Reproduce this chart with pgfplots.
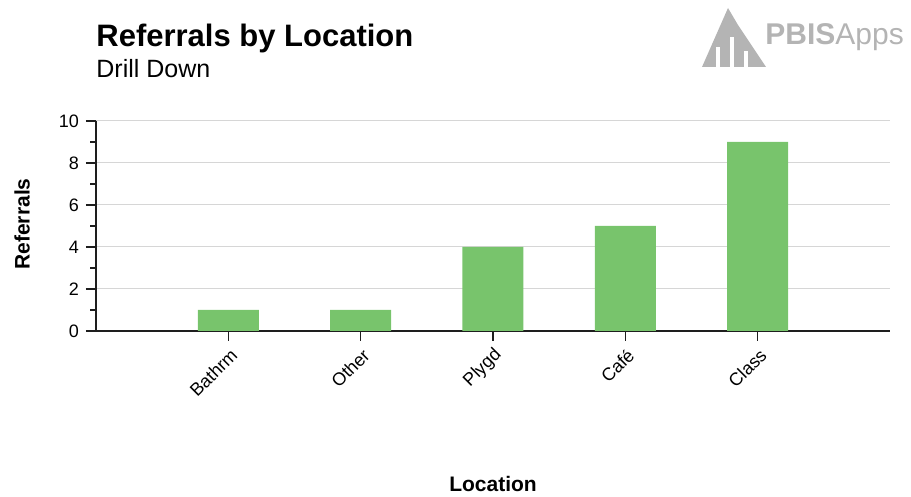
\documentclass[border=0pt]{standalone}
\usepackage{pgfplots}
\pgfplotsset{compat=1.18}
\usepackage{fontspec}
\setmainfont{Liberation Sans}

\definecolor{barGreen}{RGB}{120,196,108}
\definecolor{gridGray}{RGB}{214,214,214}
\definecolor{logoGray}{RGB}{180,180,180}
\definecolor{axisDark}{RGB}{30,30,30}

\begin{document}
\begin{tikzpicture}
\useasboundingbox (0,0) rectangle (455.5pt,248.5pt);

% title block
\node[anchor=base west, inner sep=0pt, font=\fontsize{15.5}{18}\selectfont\bfseries] at (48pt,225pt) {Referrals by Location};
\node[anchor=base west, inner sep=0pt, font=\fontsize{12.5}{15}\selectfont] at (48pt,209.5pt) {Drill Down};

% logo
\fill[logoGray] (351pt,215pt) -- (364pt,244.5pt) -- (369pt,236pt) -- (383pt,215pt) -- cycle;
\fill[white] (358pt,215pt) rectangle (360pt,225pt);
\fill[white] (365pt,215pt) rectangle (367pt,230pt);
\fill[white] (372pt,215pt) rectangle (374pt,223pt);
\node[anchor=base west, inner sep=0pt, text=logoGray, font=\fontsize{15}{18}\selectfont] at (382.5pt,226pt) {\textbf{PBIS}Apps};

\begin{axis}[
    at={(48pt,83pt)}, anchor=south west,
    scale only axis,
    width=397pt, height=105pt,
    xmin=-1, xmax=5, ymin=0, ymax=10,
    axis x line*=bottom, axis y line*=left,
    axis line style={axisDark, line width=0.75pt},
    xtick={0,1,2,3,4},
    xticklabels={Bathrm,Other,Plygd,Café,Class},
    ytick={0,2,4,6,8,10},
    minor y tick num=1,
    tick align=outside,
    major tick length=5pt, minor tick length=3pt,
    tick style={axisDark, line width=0.6pt},
    ymajorgrids,
    grid style={gridGray, line width=0.5pt},
    /pgf/number format/assume math mode=true,
    x tick label style={rotate=45, anchor=east, font=\fontsize{9}{10}\selectfont, xshift=1.5pt, yshift=-6pt},
    y tick label style={font=\fontsize{9}{10}\selectfont},
    ybar, bar width=30.5pt,
]
\addplot[fill=barGreen, draw=none, bar shift=0pt] coordinates {
    (0,1) (1,1) (2,4) (3,5) (4,9)
};
\end{axis}

% axis titles
\node[rotate=90, font=\fontsize{10.5}{12}\selectfont\bfseries] at (11pt,136.5pt) {Referrals};
\node[anchor=base, inner sep=0pt, font=\fontsize{10.5}{12}\selectfont\bfseries] at (246.5pt,2.5pt) {Location};
\end{tikzpicture}
\end{document}
